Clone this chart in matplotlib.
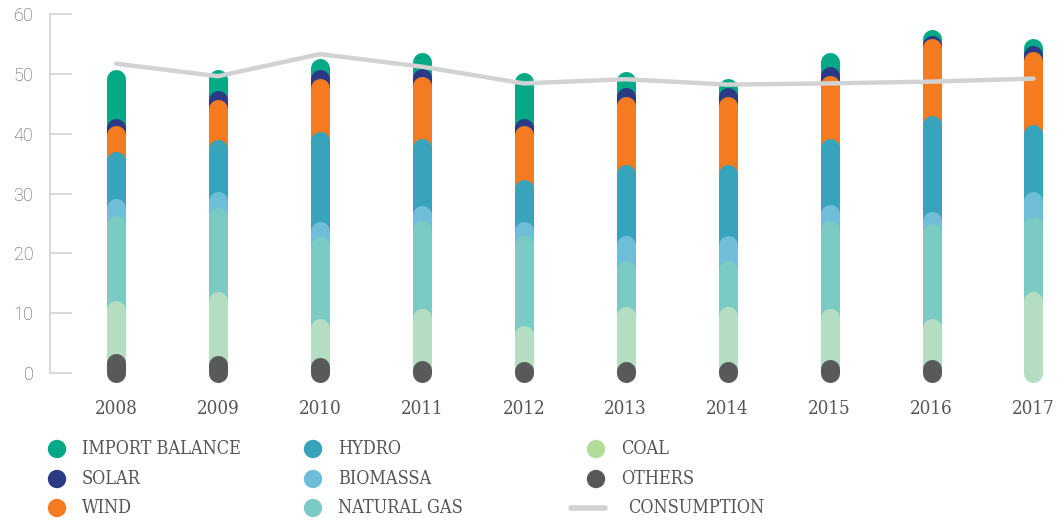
import matplotlib
matplotlib.use("Agg")
import matplotlib.pyplot as plt

years = ["2008", "2009", "2010", "2011", "2012", "2013", "2014", "2015", "2016", "2017"]

# stack order: bottom -> top
others = [1.6, 1.3, 1.0, 0.5, 0.4, 0.4, 0.4, 0.6, 0.6, 0.0]
coal = [9.0, 10.7, 6.6, 8.7, 6.0, 9.1, 9.1, 8.6, 7.0, 12.0]
natural_gas = [14.1, 14.0, 13.7, 14.7, 15.0, 7.8, 7.8, 14.7, 15.8, 12.5]
biomassa = [2.8, 2.7, 2.5, 2.5, 2.4, 4.1, 4.1, 2.6, 2.0, 4.2]
hydro = [7.9, 8.8, 15.0, 11.2, 7.0, 11.8, 11.8, 11.1, 16.1, 11.2]
wind = [4.4, 6.7, 8.8, 10.4, 9.0, 11.5, 11.5, 10.5, 12.8, 12.2]
solar = [1.1, 1.4, 1.5, 1.3, 1.2, 1.4, 1.4, 1.5, 0.6, 1.1]
import_balance = [8.3, 3.5, 1.8, 2.6, 7.7, 2.7, 1.5, 2.4, 0.9, 1.1]
consumption = [51.7, 49.6, 53.3, 51.2, 48.4, 49.1, 48.2, 48.4, 48.7, 49.2]

series = [others, coal, natural_gas, biomassa, hydro, wind, solar, import_balance]
colors = ["#58595b", "#b4ddc2", "#7acbc3", "#6fbed8", "#37a4bc", "#f47b20", "#2b3a85", "#06a985"]

legend_names = ["IMPORT BALANCE", "SOLAR", "WIND", "HYDRO", "BIOMASSA", "NATURAL GAS", "COAL", "OTHERS"]
legend_colors = ["#06a985", "#2b3a85", "#f47b20", "#37a4bc", "#6fbed8", "#7acbc3", "#b3dc9b", "#58595b"]
line_color = "#d1d2d4"
text_color = "#555555"
slab = ["DejaVu Serif"]

fig = plt.figure(figsize=(10.63, 5.21), dpi=100)
ax = fig.add_axes([50 / 1063, 136 / 521, 1010 / 1063, 374 / 521])

x = list(range(len(years)))
bar_lw = 13.7  # points, ~19 px

for i in x:
    bottom = 0.0
    segs = []
    for s in series:
        segs.append((bottom, bottom + s[i]))
        bottom += s[i]
    # draw from the top segment down so lower round caps overlap the ones above
    for (b, t), c in reversed(list(zip(segs, colors))):
        if t - b <= 0:
            continue
        ax.plot([i, i], [b, t], color=c, lw=bar_lw, solid_capstyle="round", zorder=2)

ax.plot(x, consumption, color=line_color, lw=3.2, solid_capstyle="round",
        solid_joinstyle="round", zorder=3)

ax.set_xlim(-0.648, 9.26)
ax.set_ylim(-2, 60.5)
for side in ["top", "right", "bottom"]:
    ax.spines[side].set_visible(False)
ax.spines["left"].set_bounds(0, 60)
ax.spines["left"].set_color("#d6d6d6")
ax.spines["left"].set_linewidth(1.3)

ax.set_yticks([0, 10, 20, 30, 40, 50, 60])
ax.tick_params(axis="y", direction="in", length=16, width=1.3, color="#d6d6d6",
               pad=12, labelsize=13, labelcolor=text_color)
for lab in ax.get_yticklabels():
    lab.set_family(["Roboto", "DejaVu Sans"])
    lab.set_fontweight("light")

ax.set_xticks(x)
ax.set_xticklabels(years)
ax.tick_params(axis="x", length=0, pad=11, labelsize=13.5, labelcolor=text_color)
for lab in ax.get_xticklabels():
    lab.set_family(slab)
    lab.set_fontstretch("condensed")

# legend drawn in pixel coordinates on an overlay
lg = fig.add_axes([0, 0, 1, 1])
lg.set_xlim(0, 1063)
lg.set_ylim(521, 0)
lg.axis("off")
col_x = [57, 313, 596]
row_y = [449, 479, 508]
for k, (name, c) in enumerate(zip(legend_names, legend_colors)):
    cx = col_x[k // 3]
    ry = row_y[k % 3]
    lg.scatter([cx], [ry], s=175, color=c, edgecolors="none")
    lg.text(cx + 25, ry, name, va="center", ha="left", fontsize=13, color=text_color,
            family=slab, fontstretch="condensed")
lg.plot([571, 605], [508, 508], color=line_color, lw=4, solid_capstyle="round")
lg.text(628, 508, "CONSUMPTION", va="center", ha="left", fontsize=13, color=text_color,
        family=slab, fontstretch="condensed")

fig.savefig("out.png", dpi=100)
